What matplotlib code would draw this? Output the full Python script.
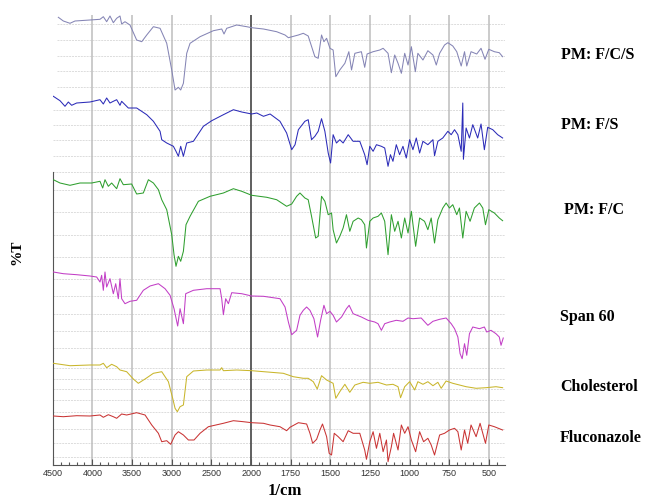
import numpy as np
import matplotlib
matplotlib.use("Agg")
import matplotlib.pyplot as plt

# ---------------- data (wavenumber, stacked %T) ----------------
fcs_wn = [4429,4366,4282,4219,4030,3904,3862,3820,3778,3736,3694,3652,3631,3589,3526,3442,3378,3315,3231,3147,3063,3000,2958,2916,2887,2853,2811,2769,2643,2475,2370,2341,2307,2181,2055,
          1996,1922,1839,1786,1765,1702,1671,1640,1598,1577,1556,1541,1524,1503,1483,1466,1441,1409,1384,1367,1346,1305,1284,1269,1231,1189,1168,1137,1116,1095,1074,1053,1032,1011,990,965,949,917,886,854,833,812,781,760,729,704,676,655,641,614,578,551,526,502,467,436,415]
fcs_T = [447.7,444,441.7,444,445,445.7,448.3,443.3,449,442.3,446.7,449,441,443.3,440,425,423.3,430,438.3,436.7,421.7,395,375,377.7,375,381.7,411.7,421.7,428.3,434.3,436,431,436.7,440,438.3,
         437.3,436,433.3,430,427.3,430,431.7,429,408.3,406.7,430,423.3,426.7,416.7,415,388.3,395,401.7,413.3,395,411.7,413.3,397.7,411,413.3,415,416.7,411.7,392.3,410,401.7,391.7,411.7,400,418.3,393.3,411.7,405,414.3,410,400,411.7,420,422.3,419,413.3,399,413.3,399,413.3,411,416.7,405.7,415.7,413.3,412.3,408.3]

fs_wn = [4492,4408,4345,4303,4261,4198,4030,3904,3862,3820,3778,3736,3694,3652,3631,3547,3442,3315,3231,3147,3126,3063,2979,2946,2916,2887,2853,2811,2727,2601,2496,2349,2223,2118,
         1996,1964,1922,1880,1818,1776,1744,1723,1702,1661,1640,1619,1598,1577,1556,1535,1514,1499,1483,1462,1441,1420,1388,1357,1315,1284,1269,1252,1231,1210,1179,1158,1137,1122,1106,1085,1064,1043,1022,1001,980,959,938,917,886,854,844,823,792,760,739,718,697,676,666,662,645,624,603,572,551,530,509,477,446,415]
fs_T = [368.7,364.3,358.7,363,359.7,362,363,365.3,361,367,362,363.7,365.3,359.7,363.7,357,357,350.3,343.7,333.7,325.3,322,318.7,313.7,308.7,318.7,308.7,322,323.7,338.7,344.3,350.3,355.3,353,
        351,352,348.7,351,343.7,332,315.3,320.3,335.3,343.7,345.3,325.3,328.7,333.7,346.3,333.7,312,302,330.3,322,325.3,322,330.3,323.7,323.7,310.3,300.3,318.7,313.7,320.3,318.7,317,298.7,310.3,303.7,320.3,310.3,318.7,307,325.3,315.3,327,312,323.7,320.3,325.3,309.3,323.7,327,333.7,330.3,335.3,330.3,313.7,362,305.7,337,327,340.3,327,341,315.3,337.7,335.3,330.3,327]

fc_wn = [4492,4408,4282,4156,4009,3904,3870,3841,3799,3757,3694,3652,3610,3505,3442,3358,3294,3231,3168,3126,3063,3000,2971,2946,2916,2887,2853,2820,2769,2664,2517,2349,2223,2118,
         1996,1901,1839,1776,1744,1713,1692,1661,1640,1619,1593,1577,1556,1535,1514,1493,1483,1462,1441,1420,1399,1378,1357,1325,1305,1284,1273,1252,1231,1200,1179,1158,1137,1116,1095,1074,1053,1032,1011,990,963,938,907,886,865,844,823,792,771,750,729,704,687,666,645,620,593,561,540,523,502,467,436,415]
fc_T = [285.3,282,279.7,282,282,283.7,277,285.3,278.7,282,276.3,286.3,280.3,281,271,272,285.3,282,275.3,265.3,255.3,230.3,210.3,198.7,208.7,203.7,213.7,240.3,248.7,263.7,268.7,272,276.3,273.7,
        269.7,267.7,265.3,258.7,261,268.7,272,267,265.3,248.7,227,228.7,268.7,263.7,250.3,252,235.3,222,228.7,237,250.3,233.7,243.7,247,245.3,240.3,217,243.7,247,248.7,252,243.7,210.3,250.3,233.7,243.7,227,247,232,253.7,218.7,247,243.7,235.3,247,222,245.3,257,262,257,260.3,250.3,257,227,253.7,243.7,257,262,257,240.3,255.3,252,247,244.3]

span_wn = [4492,4366,4198,4030,3946,3904,3883,3862,3841,3820,3778,3736,3706,3673,3652,3631,3589,3526,3442,3358,3273,3168,3084,3021,2971,2925,2895,2853,2824,2727,2559,2391,2370,2349,2320,2286,2244,2118,
           1996,1922,1818,1786,1765,1744,1713,1692,1671,1650,1629,1604,1581,1562,1541,1524,1503,1483,1462,1430,1399,1382,1357,1305,1263,1221,1200,1179,1158,1127,1085,1043,1011,980,928,886,854,812,771,739,718,697,683,670,655,641,624,603,561,530,515,488,457,436,425,411]
span_T = [193,191.3,190.3,189,188,183,189.7,174.7,193,178,186.3,171.3,181.3,166.3,186.3,166.3,161.3,163.7,164.7,174.7,179,181.3,176.3,169.7,156.3,139,156.3,141.3,171.3,174.7,176.3,176.3,166.3,150.3,166.3,161.3,172.3,171.3,
          169,168.7,166.3,158,143,130.3,134.7,149.7,154.7,158,154.7,146.3,128,144.7,159.7,151.3,153.7,149.7,143,148,156.3,159.7,151.3,148,144.7,143,141.3,134.7,141.3,143,144.7,143.7,147,146.3,147,139.7,143.7,145.7,147,141.3,136.3,128,111.3,106.3,121.3,109.7,131.3,138,136.3,138,133,134.7,131.3,128,119.7,127]

chol_wn = [4492,4282,4030,3904,3862,3820,3757,3694,3652,3568,3484,3421,3336,3231,3126,3042,2988,2958,2929,2895,2853,2811,2727,2559,2391,2370,2349,2181,
           1996,1797,1734,1671,1640,1608,1583,1556,1524,1483,1466,1441,1409,1378,1346,1294,1252,1200,1147,1106,1074,1058,1032,1001,969,949,917,886,854,823,802,771,729,645,582,519,457,415]
chol_T = [101.7,99.3,100,100,101.7,97.3,100.7,98.3,95,93.3,86,81.7,86,91.7,93.3,83.3,66.7,56.7,53.3,58.3,60,88.3,94,95,95,97.3,94.3,95,
          94.3,91.7,88.3,86.7,86.7,83.3,76,89.3,85,81.7,66.7,73.3,80.7,72.7,80,82.7,81.7,82.7,80,80.7,78.3,67.3,78.3,83.3,75,83.3,80.7,83.3,79.3,82.7,76.7,84,81.7,78.3,76.7,77.3,78.3,77.3]

fluc_wn = [4492,4366,4198,4030,3904,3862,3799,3736,3694,3631,3568,3442,3336,3252,3168,3126,3063,3013,2958,2916,2853,2790,2719,2643,2538,2349,2223,2097,
           1996,1922,1880,1818,1776,1755,1702,1650,1629,1612,1587,1566,1550,1524,1508,1493,1476,1451,1420,1388,1357,1315,1284,1273,1252,1231,1210,1189,1168,1147,1137,1116,1102,1074,1053,1032,1011,990,963,938,913,886,865,844,812,781,750,718,697,676,655,635,614,582,557,523,502,467,415]
fluc_T = [49,48.3,49.3,49,50,47.7,50.3,48.3,46.7,51,50,52.3,50,40,31.7,23.3,24.3,20.7,30,33.3,30,25,25,31.7,38.3,41.7,44.3,43.3,
          42.3,41.7,40,38.3,34.3,37.7,42.3,41,31.7,21.7,25.7,35,41,28.3,11.7,10,31.7,28.3,23.3,34.3,31.7,31.7,15,5.7,23.3,33.3,16.7,31.7,13.3,25,3.3,18.3,31.7,15,40,31.7,38.3,25,13.3,33.3,23.3,26.7,20,10,30,31.7,35,36.7,33.3,15,35,21.7,40,28.3,41.7,21.7,40,38.3,35]

names = ["PM: F/C/S", "PM: F/S", "PM: F/C", "Span 60", "Cholesterol", "Fluconazole"]
colors = ["#8585b5", "#2b2bb8", "#2f9f2f", "#c23ec6", "#c9b62c", "#c93434"]
label_T = [410, 340, 255, 148, 78, 27]
label_x = [561, 561, 564, 560, 560, 560]

major_left = [4500, 4000, 3500, 3000, 2500, 2000]
major_right = [1750, 1500, 1250, 1000, 750, 500]
hgrid_T = [441, 425, 409, 394, 378, 355, 340, 325, 309, 293, 275, 253, 230, 208, 186, 169, 151, 134, 117, 97, 86, 76, 65, 53, 36, 22, 8]

# ---------------- broken (two-rate) wavenumber scale ----------------
def fwd(w):
    w = np.asarray(w, dtype=float)
    return np.where(w >= 2000, w / 500.0, 4.0 + (w - 2000.0) / 250.0)

def inv(u):
    u = np.asarray(u, dtype=float)
    return np.where(u >= 4, u * 500.0, 2000.0 + (u - 4.0) * 250.0)

fig = plt.figure(figsize=(6.49, 5.03), dpi=100)
ax = fig.add_axes([52.7 / 649, 38 / 503, 452.3 / 649, 450 / 503])
ax.set_xscale("function", functions=(fwd, inv))
ax.set_xlim(4500, 400)
ax.set_ylim(0, 450)

# grid
for T in hgrid_T:
    x0 = 4440 if T > 370 else 4500
    ax.plot([x0, 400], [T, T], color="#dcdcdc", lw=0.7, ls=(0, (2, 1)), zorder=1)
for w in major_left[1:-1] + major_right:
    ax.axvline(w, color="#bdbdbd", lw=1.1, zorder=1)
ax.axvline(2000, color="#444444", lw=1.2, zorder=1)

spectra = [(fcs_wn, fcs_T), (fs_wn, fs_T), (fc_wn, fc_T), (span_wn, span_T), (chol_wn, chol_T), (fluc_wn, fluc_T)]
for (wn, T), c in zip(spectra, colors):
    ax.plot(wn, T, color=c, lw=0.75, zorder=3)

# axes styling
for s in ["top", "right"]:
    ax.spines[s].set_visible(False)
ax.spines["left"].set_bounds(0, 293)
ax.spines["left"].set_color("#555555")
ax.spines["bottom"].set_color("#555555")
ax.set_yticks([])
ax.set_xticks(major_left + major_right)
ax.set_xticklabels([str(v) for v in major_left + major_right])
minor = [4400, 4300, 4200, 4100, 3900, 3800, 3700, 3600, 3400, 3300, 3200, 3100, 2900, 2800, 2700, 2600, 2400, 2300, 2200, 2100,
         1950, 1900, 1850, 1800, 1700, 1650, 1600, 1550, 1450, 1400, 1350, 1300, 1200, 1150, 1100, 1050, 950, 900, 850, 800, 700, 650, 600, 550, 450]
ax.set_xticks(minor, minor=True)
ax.tick_params(axis="x", which="major", direction="in", length=4, width=0.8, color="#555555",
               labelsize=6.5, labelcolor="#333333", pad=3)
ax.tick_params(axis="x", which="minor", direction="in", length=2.5, width=0.8, color="#555555")
for lab in ax.get_xticklabels():
    lab.set_family("Liberation Sans")

# texts
serif = "Liberation Serif"
for n, T, xp in zip(names, label_T, label_x):
    ax.annotate(n, xy=(xp / 649, T), xycoords=("figure fraction", "data"),
                ha="left", va="center", fontsize=11.5, fontweight="bold", family=serif)
fig.text(285 / 649, 1 - 491 / 503, "1/cm", ha="center", va="center", fontsize=12, fontweight="bold", family=serif)
fig.text(17 / 649, 1 - 252 / 503, "%T", ha="center", va="center", rotation=90, fontsize=11, fontweight="bold", family=serif)

fig.savefig("out.png", dpi=100)
